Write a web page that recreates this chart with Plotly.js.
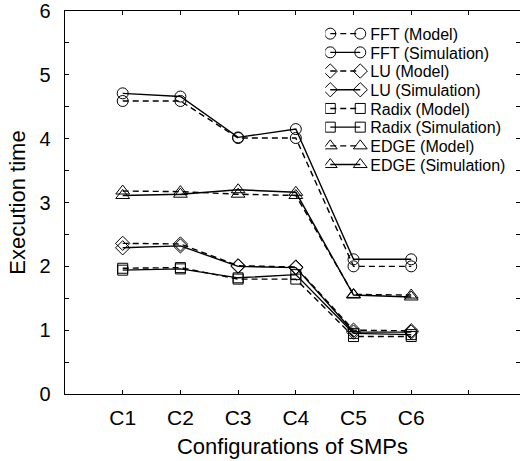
<!DOCTYPE html>
<html>
<head>
<meta charset="utf-8">
<script src="https://cdn.plot.ly/plotly-3.0.1.min.js"></script>
<style>html,body{margin:0;padding:0;background:#fff;}#chart{width:520px;height:461px;}</style>
</head>
<body>
<div id="chart"></div>
<script>
const categories = ["C1", "C2", "C3", "C4", "C5", "C6"];
const fftModel = [4.59, 4.59, 4.01, 4.01, 2.00, 2.00];
const fftSim   = [4.71, 4.66, 4.02, 4.15, 2.11, 2.11];
const luModel  = [2.36, 2.35, 2.01, 1.99, 1.00, 0.99];
const luSim    = [2.29, 2.32, 2.00, 1.98, 0.97, 0.97];
const radixModel = [1.97, 1.98, 1.80, 1.80, 0.90, 0.90];
const radixSim   = [1.94, 1.96, 1.82, 1.87, 0.95, 0.93];
const edgeModel  = [3.18, 3.17, 3.13, 3.11, 1.56, 1.55];
const edgeSim    = [3.11, 3.13, 3.20, 3.16, 1.55, 1.52];

const xPos = categories.map((c, i) => i + 1);

function tr(name, y, symbol, dash, size) {
  return {
    x: xPos, y: y, name: name, type: 'scatter', mode: 'lines+markers',
    line: {color: '#000', width: 1.4, dash: dash},
    marker: {symbol: symbol, size: size, color: '#000', line: {color: '#000', width: 1}},
    cliponaxis: false
  };
}

const data = [
  tr('FFT (Model)', fftModel, 'circle-open', '6px,4px', 11),
  tr('FFT (Simulation)', fftSim, 'circle-open', 'solid', 11),
  tr('LU (Model)', luModel, 'diamond-open', '6px,4px', 11),
  tr('LU (Simulation)', luSim, 'diamond-open', 'solid', 11),
  tr('Radix (Model)', radixModel, 'square-open', '6px,4px', 10),
  tr('Radix (Simulation)', radixSim, 'square-open', 'solid', 10),
  tr('EDGE (Model)', edgeModel, 'triangle-up-open', '6px,4px', 12),
  tr('EDGE (Simulation)', edgeSim, 'triangle-up-open', 'solid', 12)
];

const layout = {
  width: 520, height: 461,
  margin: {l: 65, r: 0, t: 11, b: 67, pad: 0},
  paper_bgcolor: '#fff', plot_bgcolor: '#fff',
  font: {family: 'Liberation Sans, Arial, sans-serif', color: '#000', size: 22},
  showlegend: true,
  legend: {
    x: 0.572, y: 0.985, xanchor: 'left', yanchor: 'top',
    bgcolor: 'rgba(0,0,0,0)', borderwidth: 0,
    font: {size: 16, color: '#000'}, tracegroupgap: 0
  },
  xaxis: {
    range: [0, 7.885],
    tickvals: xPos.concat([7]),
    ticktext: categories.concat(['']),
    ticks: 'inside', ticklen: 4, tickwidth: 1, tickcolor: '#000',
    showline: true, linecolor: '#000', linewidth: 1.3, mirror: 'ticks',
    showgrid: false, zeroline: false,
    tickfont: {size: 21}, ticklabelstandoff: 4,
    title: {text: 'Configurations of SMPs', font: {size: 22}, standoff: 11}
  },
  yaxis: {
    range: [0, 6],
    tickvals: [0, 1, 2, 3, 4, 5, 6],
    ticks: 'inside', ticklen: 4, tickwidth: 1, tickcolor: '#000',
    minor: {dtick: 0.5, ticks: 'inside', ticklen: 4, tickcolor: '#000', showgrid: false},
    showline: true, linecolor: '#000', linewidth: 1.3, mirror: 'ticks',
    showgrid: false, zeroline: false,
    tickfont: {size: 20}, ticklabelstandoff: 9, ticklabeloverflow: 'allow',
    title: {text: 'Execution time', font: {size: 22}, standoff: 8}
  }
};

const ROW = 18.7;
Plotly.newPlot('chart', data, layout, {staticPlot: true, displayModeBar: false}).then(gd => {
  const items = gd.querySelectorAll('.legend .traces');
  let y0 = null;
  items.forEach((g, i) => {
    const t = g.getAttribute('transform') || '';
    const m = t.match(/translate\(\s*([-\d.]+)[ ,]+([-\d.]+)\s*\)/);
    if (!m) return;
    const x = parseFloat(m[1]);
    if (y0 === null) y0 = parseFloat(m[2]);
    g.setAttribute('transform', 'translate(' + x + ',' + (y0 + i * ROW) + ')');
    // markers at both ends of the line sample
    g.querySelectorAll('.legendpoints path.scatterpts').forEach(p => {
      const c = p.cloneNode(true);
      p.setAttribute('transform', 'translate(5,0)');
      c.setAttribute('transform', 'translate(35,0)');
      p.parentNode.appendChild(c);
    });
    g.querySelectorAll('text.legendtext').forEach(tx => {
      const cx = parseFloat(tx.getAttribute('x') || '40');
      tx.setAttribute('x', cx + 5);
    });
  });
});
</script>
</body>
</html>
